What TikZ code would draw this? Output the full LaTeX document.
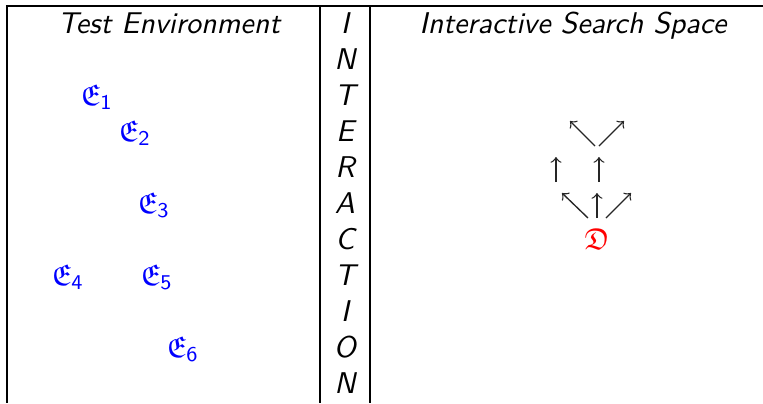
\documentclass[tikz,border=0pt]{standalone}
\usepackage{amssymb}

\begin{document}
\begin{tikzpicture}[x=0.3333pt,y=-0.3333pt,
    every node/.style={font=\sffamily\itshape,inner sep=0pt},
    env/.style={text=blue,anchor=base west},
    rule/.style={line width=0.4pt},
    move/.style={->,line width=0.45pt,black!85}]
\useasboundingbox (0,0) rectangle (763,403);
% table rules
\draw[rule] (6,6) -- (763,6);
\foreach \x in {7,320,370}{
    \draw[rule] (\x,6) -- (\x,403);
}
% headings
\node[anchor=base] (testenv) at (169,33) {Test Environment};
\node[anchor=base] (searchsp) at (573,33) {Interactive Search Space};
% middle column, one letter per row
\foreach \c [count=\i from 0] in {I,N,T,E,R,A,C,T,I,O,N}{
    \node[anchor=base] (int\i) at (345,33+36*\i) {\c};
}
% environments
\node[env] (e1) at (80,105) {$\mathfrak{E}_{\mathsf{1}}$};
\node[env] (e2) at (118,141) {$\mathfrak{E}_{\mathsf{2}}$};
\node[env] (e3) at (137,213) {$\mathfrak{E}_{\mathsf{3}}$};
\node[env] (e4) at (51,285) {$\mathfrak{E}_{\mathsf{4}}$};
\node[env] (e5) at (140,285) {$\mathfrak{E}_{\mathsf{5}}$};
\node[env] (e6) at (166,357) {$\mathfrak{E}_{\mathsf{6}}$};
% search space
\node[anchor=base,text=red] (d) at (597,249) {$\mathfrak{D}$};
\coordinate (b1t) at (588,218);  \coordinate (b1h) at (562,193);
\coordinate (b2t) at (597,218);  \coordinate (b2h) at (597,193);
\coordinate (b3t) at (606,218);  \coordinate (b3h) at (631,193);
\coordinate (m1t) at (556,182);  \coordinate (m1h) at (556,157);
\coordinate (m2t) at (599,182);  \coordinate (m2h) at (599,157);
\coordinate (t1t) at (595,146);  \coordinate (t1h) at (570,121);
\coordinate (t2t) at (599,146);  \coordinate (t2h) at (624,121);
\draw[move] (b1t) -- (b1h);
\draw[move] (b2t) -- (b2h);
\draw[move] (b3t) -- (b3h);
\draw[move] (m1t) -- (m1h);
\draw[move] (m2t) -- (m2h);
\draw[move] (t1t) -- (t1h);
\draw[move] (t2t) -- (t2h);
\end{tikzpicture}
\end{document}
